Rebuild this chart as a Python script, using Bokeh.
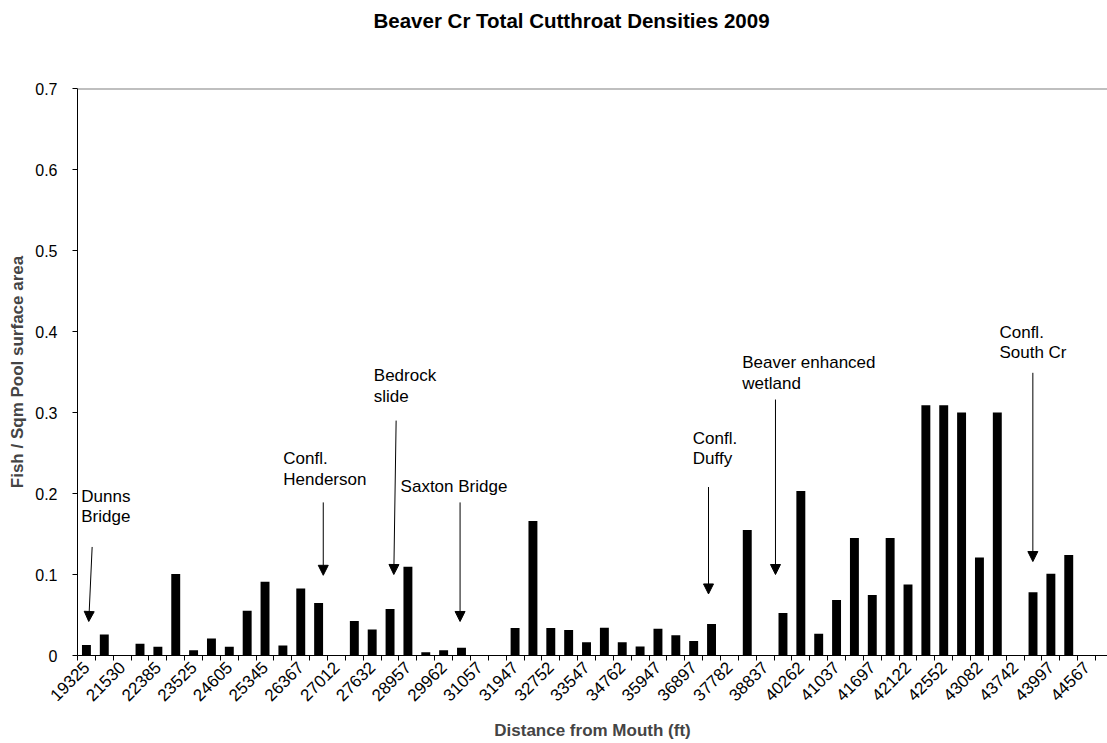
import math
from bokeh.plotting import figure
from bokeh.models import (Range1d, FixedTicker, NumeralTickFormatter, Span, Label,
                          Arrow, NormalHead, Title)
from bokeh.embed import file_html
from bokeh.resources import INLINE

# ---------------- data ----------------
tick_labels = ["19325", "21530", "22385", "23525", "24605", "25345", "26367", "27012",
               "27632", "28957", "29962", "31057", "31947", "32752", "33547", "34762",
               "35947", "36897", "37782", "38837", "40262", "41037", "41697", "42122",
               "42552", "43082", "43742", "43997", "44567"]
densities = [0.013, 0.026, 0.0, 0.0145, 0.0107, 0.1005, 0.0066, 0.021, 0.0107, 0.0554,
             0.0909, 0.0124, 0.0826, 0.0649, 0.0, 0.0426, 0.0322, 0.0574, 0.1095, 0.004,
             0.0066, 0.0095, 0.0, 0.0, 0.0339, 0.166, 0.0339, 0.0314, 0.0165, 0.0343,
             0.0165, 0.011, 0.033, 0.025, 0.018, 0.039, 0.0, 0.155, 0.0, 0.0525,
             0.203, 0.027, 0.0686, 0.145, 0.0748, 0.145, 0.0876, 0.309, 0.309, 0.300,
             0.121, 0.300, 0.0, 0.078, 0.101, 0.124, 0.0]
positions = list(range(len(densities)))
y_ticks = [0, 0.1, 0.2, 0.3, 0.4, 0.5, 0.6, 0.7]

title_text = "Beaver Cr Total Cutthroat Densities 2009"

# annotations: (lines, x_left, [y of each line]), arrows: (x_start, y_start, x_end, y_end)
notes = [
    (["Dunns", "Bridge"], -0.29, [0.196, 0.171]),
    (["Confl.", "Henderson"], 11.02, [0.243, 0.217]),
    (["Bedrock", "slide"], 16.09, [0.346, 0.320]),
    (["Saxton Bridge"], 17.59, [0.209]),
    (["Confl.", "Duffy"], 33.95, [0.268, 0.243]),
    (["Beaver enhanced", " wetland"], 36.72, [0.362, 0.336]),
    (["Confl.", "South Cr"], 51.12, [0.399, 0.374]),
]
arrows = [
    (0.32, 0.134, 0.13, 0.042),
    (13.26, 0.189, 13.26, 0.099),
    (17.34, 0.290, 17.21, 0.100),
    (20.92, 0.189, 20.92, 0.042),
    (34.83, 0.208, 34.83, 0.076),
    (38.58, 0.316, 38.58, 0.100),
    (52.99, 0.349, 52.99, 0.116),
]

FONT = "Liberation Sans"

p = figure(width=1107, height=743, output_backend="svg", toolbar_location=None,
           title=None,
           x_range=Range1d(-0.5, 57.17), y_range=Range1d(0, 0.7),
           min_border_left=77, min_border_right=0, min_border_top=88, min_border_bottom=88)
p.outline_line_color = None
p.background_fill_color = "white"
p.border_fill_color = "white"
p.xgrid.visible = False
p.ygrid.visible = False

p.vbar(x=positions, top=densities, width=0.5, fill_color="black", line_color=None)

p.add_layout(Span(location=0.7, dimension="width", line_color="#808080", line_width=2))

# spacer between frame and title, then the title itself (outermost)
p.add_layout(Title(text=" ", text_font_size="1px", standoff=54), "above")
p.add_layout(Title(text=title_text, text_font=FONT, text_font_size="20.5px",
                   text_font_style="bold", align="left", offset=296, standoff=0,
                   text_color="black"), "above")

# x axis
xa = p.xaxis[0]
xa.ticker = FixedTicker(ticks=list(range(0, len(densities), 2)),
                        minor_ticks=[i - 0.5 for i in range(0, len(densities) + 1)])
xa.major_label_overrides = {i * 2: lab for i, lab in enumerate(tick_labels)}
xa.major_label_orientation = math.pi / 4
xa.major_tick_line_color = None
xa.major_tick_out = 5
xa.major_tick_in = 0
xa.minor_tick_line_color = "black"
xa.minor_tick_out = 5
xa.minor_tick_in = 0
xa.major_label_standoff = 4
xa.major_label_text_font = FONT
xa.major_label_text_font_size = "17px"
xa.major_label_text_color = "black"
xa.axis_line_color = "black"
xa.axis_label = "Distance from Mouth (ft)"
xa.axis_label_text_font = FONT
xa.axis_label_text_font_size = "17px"
xa.axis_label_text_font_style = "bold"
xa.axis_label_standoff = 12

# y axis
ya = p.yaxis[0]
ya.ticker = FixedTicker(ticks=y_ticks, minor_ticks=[])
ya.formatter = NumeralTickFormatter(format="0.[0]")
ya.major_tick_out = 5
ya.major_tick_in = 0
ya.major_tick_line_color = "black"
ya.minor_tick_line_color = None
ya.major_label_standoff = 15
ya.major_label_text_font = FONT
ya.major_label_text_font_size = "16px"
ya.major_label_text_color = "black"
ya.axis_line_color = "black"
ya.axis_label = "Fish / Sqm Pool surface area"
ya.axis_label_text_font = FONT
ya.axis_label_text_font_size = "17px"
ya.axis_label_text_font_style = "bold"
ya.axis_label_standoff = 5

for lines, xl, ys in notes:
    for txt, yy in zip(lines, ys):
        p.add_layout(Label(x=xl, y=yy, text=txt, text_font=FONT, text_font_size="17px",
                           text_baseline="middle", text_align="left", text_color="black"))

for x0, y0, x1, y1 in arrows:
    p.add_layout(Arrow(x_start=x0, y_start=y0, x_end=x1, y_end=y1, line_color="black",
                       line_width=1,
                       end=NormalHead(size=10, fill_color="black", line_color="black")))

open("out.html", "w").write(file_html(p, INLINE))
